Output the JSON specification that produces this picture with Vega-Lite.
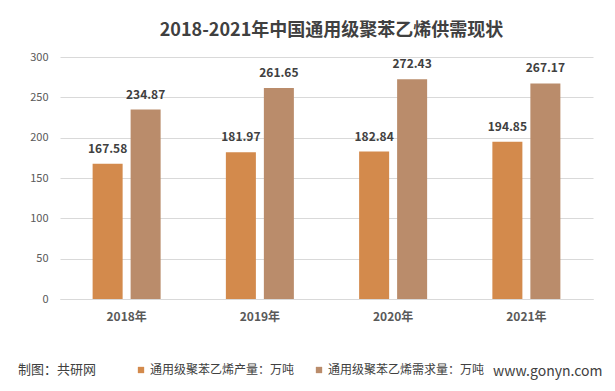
{
  "$schema": "https://vega.github.io/schema/vega-lite/v6.json",
  "autosize": {"type": "none"},
  "width": 533,
  "height": 242,
  "padding": {"left": 60, "top": 57, "right": 22, "bottom": 92},
  "background": "#ffffff",
  "title": {
    "text": "2018-2021年中国通用级聚苯乙烯供需现状",
    "fontSize": 18,
    "fontWeight": "bold",
    "color": "#404040",
    "font": "Noto Sans CJK SC",
    "offset": 11,
    "dx": 5
  },
  "data": {
    "values": [
      {"year": "2018年", "series": "通用级聚苯乙烯产量：万吨", "value": 167.58},
      {"year": "2018年", "series": "通用级聚苯乙烯需求量：万吨", "value": 234.87},
      {"year": "2019年", "series": "通用级聚苯乙烯产量：万吨", "value": 181.97},
      {"year": "2019年", "series": "通用级聚苯乙烯需求量：万吨", "value": 261.65},
      {"year": "2020年", "series": "通用级聚苯乙烯产量：万吨", "value": 182.84},
      {"year": "2020年", "series": "通用级聚苯乙烯需求量：万吨", "value": 272.43},
      {"year": "2021年", "series": "通用级聚苯乙烯产量：万吨", "value": 194.85},
      {"year": "2021年", "series": "通用级聚苯乙烯需求量：万吨", "value": 267.17}
    ]
  },
  "encoding": {
    "x": {
      "field": "year",
      "type": "nominal",
      "sort": null,
      "scale": {"paddingInner": 0, "paddingOuter": 0},
      "axis": {
        "title": "www.gonyn.com",
        "titleAnchor": "end",
        "titleAlign": "right",
        "titleX": 542,
        "titleY": 72,
        "titleBaseline": "middle",
        "titleFontSize": 14,
        "titleFontWeight": "normal",
        "titleColor": "#404040",
        "titleFont": "Noto Sans CJK SC",
        "labelAngle": 0,
        "labelFontSize": 12,
        "labelFontWeight": "bold",
        "labelColor": "#595959",
        "labelFont": "Noto Sans CJK SC",
        "labelPadding": 12,
        "ticks": false,
        "domainColor": "#d9d9d9",
        "grid": false
      }
    },
    "xOffset": {
      "field": "series",
      "type": "nominal",
      "sort": ["通用级聚苯乙烯产量：万吨", "通用级聚苯乙烯需求量：万吨"],
      "scale": {"paddingInner": 0.21, "paddingOuter": 0.8586}
    },
    "y": {
      "field": "value",
      "type": "quantitative",
      "scale": {"domain": [0, 300], "nice": false},
      "axis": {
        "title": null,
        "values": [0, 50, 100, 150, 200, 250, 300],
        "domain": false,
        "ticks": false,
        "labelPadding": 12,
        "labelFontSize": 11,
        "labelColor": "#595959",
        "labelFont": "Noto Sans CJK SC",
        "gridColor": "#d9d9d9"
      }
    }
  },
  "layer": [
    {
      "mark": {"type": "bar"},
      "encoding": {
        "color": {
          "field": "series",
          "type": "nominal",
          "scale": {
            "domain": ["通用级聚苯乙烯产量：万吨", "通用级聚苯乙烯需求量：万吨"],
            "range": ["#D38A4C", "#BA8C6B"]
          },
          "legend": {
            "title": "制图：共研网",
            "titleOrient": "left",
            "titleFontSize": 13,
            "titleFontWeight": "normal",
            "titleColor": "#404040",
            "titleFont": "Noto Sans CJK SC",
            "titlePadding": 38,
            "titleBaseline": "middle",
            "orient": "none",
            "legendX": -42,
            "legendY": 307,
            "direction": "horizontal",
            "symbolType": "square",
            "symbolSize": 40,
            "symbolStrokeWidth": 0,
            "labelFontSize": 12,
            "labelColor": "#404040",
            "labelFont": "Noto Sans CJK SC",
            "labelLimit": 300,
            "labelOffset": 3,
            "columnPadding": 18
          }
        }
      }
    },
    {
      "mark": {
        "type": "text",
        "baseline": "bottom",
        "dy": -8,
        "fontSize": 12,
        "fontWeight": "bold",
        "color": "#404040",
        "font": "Noto Sans CJK SC"
      },
      "encoding": {
        "text": {"field": "value", "type": "quantitative", "format": ".2f"}
      }
    }
  ],
  "config": {
    "view": {"stroke": null}
  }
}
